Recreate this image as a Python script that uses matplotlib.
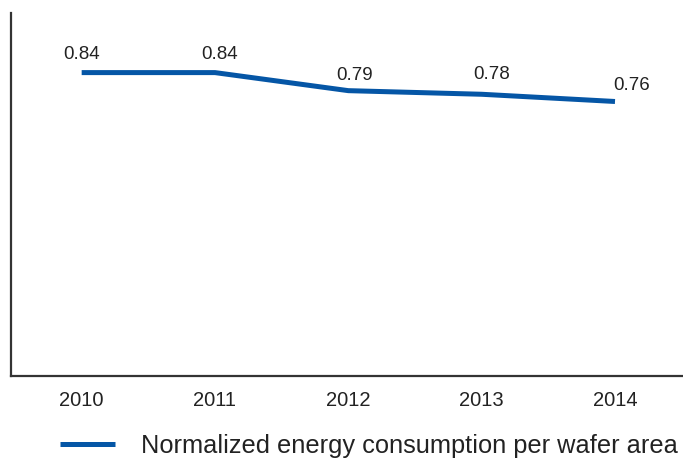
import matplotlib
matplotlib.use("Agg")
import matplotlib.pyplot as plt

# data
years = ["2010", "2011", "2012", "2013", "2014"]
energy = [0.84, 0.84, 0.79, 0.78, 0.76]
series_name = "Normalized energy consumption per wafer area"

BLUE = "#0556a6"
plt.rcParams["font.family"] = ["Liberation Sans", "DejaVu Sans"]

fig = plt.figure(figsize=(6.83, 4.58), dpi=100)
ax = fig.add_axes([11 / 683, 1 - 376 / 458, 1 - 11 / 683, (376 - 13) / 458])

x = list(range(len(years)))
line, = ax.plot(x, energy, color=BLUE, lw=3.6, solid_capstyle="butt",
                label=series_name)

# label nudges in pixels (x, y)
nudges = [(0, 18), (5, 18), (6, 15), (10, 20), (17, 16)]
for xi, val, (dx, dy) in zip(x, energy, nudges):
    ax.annotate(f"{val:.2f}", (xi, val), xytext=(dx, dy),
                textcoords="offset pixels", ha="center", va="center",
                fontsize=13.5, color="#222222")

ax.set_xlim(-0.53, 4.51)
ax.set_ylim(0, 1.005)
ax.set_xticks(x)
ax.set_xticklabels(years, fontsize=14.5, color="#222222")
ax.set_yticks([])
ax.tick_params(axis="x", length=0, pad=11)
ax.spines[["top", "right"]].set_visible(False)
for s in ("left", "bottom"):
    ax.spines[s].set_linewidth(1.6)
    ax.spines[s].set_color("#333333")

fig.legend(handles=[line], loc="center left",
           bbox_to_anchor=(50 / 683, 1 - 446 / 458), frameon=False,
           borderaxespad=0, fontsize=18.3, handlelength=2.17,
           handletextpad=1.0, labelcolor="#222222")

fig.savefig("out.png", dpi=100)
